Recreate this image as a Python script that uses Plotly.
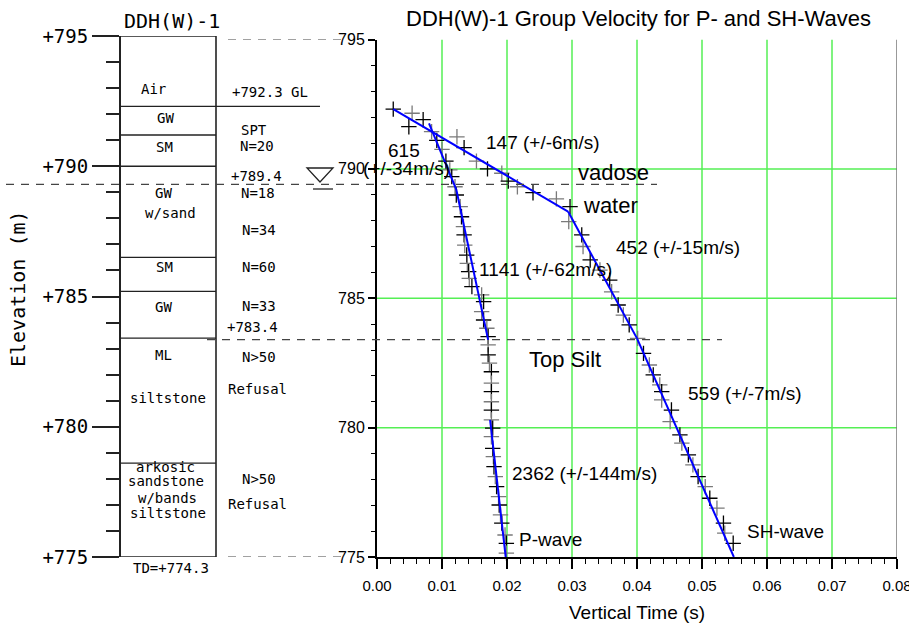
import plotly.graph_objects as go

W, H = 909, 625

# ---------------- data ----------------
# P-wave picks (elevation m, vertical time s)
p_elev = [791.63, 791.44, 791.10, 790.75, 790.30, 789.96, 789.70, 789.31, 788.99, 788.54,
          788.15, 787.77, 787.45, 787.05, 786.67, 786.35, 786.03, 785.77, 785.45, 785.13,
          784.87, 784.48, 784.16, 783.84, 783.52, 783.20, 782.81, 782.49, 782.16, 781.72,
          781.39, 781.00, 780.68, 780.30, 779.98, 779.65, 779.20, 778.88, 778.49, 778.11,
          777.72, 777.33, 777.01, 776.63, 776.31, 775.85, 775.53, 775.15, 774.90]
p_time = [0.0049, 0.0084, 0.0092, 0.0100, 0.0106, 0.0112, 0.0115, 0.0120, 0.0122, 0.0128,
          0.0130, 0.0133, 0.0134, 0.0135, 0.0138, 0.0139, 0.0141, 0.0142, 0.0146, 0.0161,
          0.0164, 0.0161, 0.0164, 0.0169, 0.0171, 0.0171, 0.0171, 0.0173, 0.0176, 0.0176,
          0.0176, 0.0176, 0.0176, 0.0176, 0.0178, 0.0176, 0.0178, 0.0179, 0.0180, 0.0182,
          0.0184, 0.0187, 0.0188, 0.0190, 0.0192, 0.0197, 0.0199, 0.0199, 0.0202]

# SH-wave picks
sh_elev = [792.31, 792.15, 791.90, 791.24, 790.82, 790.30, 790.00, 789.83, 789.53, 789.31,
           789.08, 788.84, 788.54, 787.96, 787.45, 787.00, 786.48, 786.09, 785.70, 785.25,
           784.74, 784.35, 783.97, 783.45, 782.87, 782.42, 782.04, 781.65, 781.39, 781.07,
           780.68, 780.23, 779.72, 779.40, 778.95, 778.56, 778.11, 777.72, 777.27, 776.89,
           776.31, 775.92, 775.53, 774.90]
sh_time = [0.0025, 0.0054, 0.0071, 0.0123, 0.0134, 0.0153, 0.0170, 0.0192, 0.0202, 0.0216,
           0.0240, 0.0276, 0.0297, 0.0295, 0.0315, 0.0317, 0.0328, 0.0343, 0.0358, 0.0361,
           0.0371, 0.0379, 0.0388, 0.0401, 0.0410, 0.0419, 0.0425, 0.0435, 0.0438, 0.0438,
           0.0453, 0.0451, 0.0466, 0.0469, 0.0479, 0.0486, 0.0494, 0.0505, 0.0512, 0.0523,
           0.0533, 0.0535, 0.0548, 0.0548]

# Linear-fit segments (top / bottom end of each segment)
p_fit_top_elev = [791.76, 789.20, 780.30]
p_fit_top_time = [0.0080, 0.0122, 0.0174]
p_fit_bot_elev = [789.20, 783.39, 775.00]
p_fit_bot_time = [0.0122, 0.0171, 0.0198]

sh_fit_top_elev = [792.31, 788.35, 783.45]
sh_fit_top_time = [0.0025, 0.0294, 0.0400]
sh_fit_bot_elev = [788.35, 783.45, 775.00]
sh_fit_bot_time = [0.0294, 0.0400, 0.0549]

# Boring log
layer_tops = [795.0, 792.3, 791.2, 790.0, 786.5, 785.2, 783.4, 778.6]
log_bottom = 775.0
ground_level = 792.3
water_level = 789.4
top_silt = 783.4

elev_ticks = [775, 780, 785, 790, 795]
elev_ticktext = ["+775", "+780", "+785", "+790", "+795"]
time_ticks = [0.00, 0.01, 0.02, 0.03, 0.04, 0.05, 0.06, 0.07, 0.08]

# ---------------- figure ----------------
def pxx(x):
    return x / W

def pxy(y):
    return 1 - y / H

def seg_xy(t0, e0, t1, e1):
    xs, ys = [], []
    for a, b, c, d in zip(t0, e0, t1, e1):
        xs += [a, c, None]
        ys += [b, d, None]
    return xs, ys

fig = go.Figure()

BLACK = "#000000"
GRAY = "#7a7a7a"
GREEN = "#55ef55"
BLUE = "#0000ff"

def cross_colors(n):
    return [BLACK if i % 2 == 0 else GRAY for i in range(n)]

for t, e in ((p_time, p_elev), (sh_time, sh_elev)):
    cols = cross_colors(len(t))
    fig.add_trace(go.Scatter(
        x=t, y=e, mode="markers", cliponaxis=False, showlegend=False,
        marker=dict(symbol="cross-thin", size=11, color=cols,
                    line=dict(color=cols, width=1.3)),
        xaxis="x", yaxis="y"))

for t0, e0, t1, e1 in ((p_fit_top_time, p_fit_top_elev, p_fit_bot_time, p_fit_bot_elev),
                       (sh_fit_top_time, sh_fit_top_elev, sh_fit_bot_time, sh_fit_bot_elev)):
    xs, ys = seg_xy(t0, e0, t1, e1)
    fig.add_trace(go.Scatter(x=xs, y=ys, mode="lines", showlegend=False,
                             line=dict(color=BLUE, width=2), xaxis="x", yaxis="y"))

# dummy trace for the log panel axes
fig.add_trace(go.Scatter(x=[None], y=[None], xaxis="x2", yaxis="y2", showlegend=False))

shapes = []
# green grid (right panel)
for t in time_ticks[1:-1]:
    shapes.append(dict(type="line", xref="x", yref="y", x0=t, x1=t, y0=775, y1=795,
                       line=dict(color=GREEN, width=1.5), layer="below"))
for e in elev_ticks[1:-1]:
    shapes.append(dict(type="line", xref="x", yref="y", x0=0, x1=0.08, y0=e, y1=e,
                       line=dict(color=GREEN, width=1.5), layer="below"))
# right border (gray)
shapes.append(dict(type="line", xref="x", yref="y", x0=0.08, x1=0.08, y0=775, y1=795,
                   line=dict(color="#777777", width=1.5)))

LOGC = "#222222"
COL_L, COL_R = 120, 216
# column right border
shapes.append(dict(type="line", xref="x2", yref="y2", x0=COL_R, x1=COL_R, y0=log_bottom, y1=layer_tops[0],
                   line=dict(color=LOGC, width=1.6)))
# top and bottom of column
for e in (layer_tops[0], log_bottom):
    shapes.append(dict(type="line", xref="x2", yref="y2", x0=COL_L, x1=COL_R, y0=e, y1=e,
                       line=dict(color=LOGC, width=1.6)))
# layer boundaries
for e in layer_tops[1:]:
    x1 = 320 if e == ground_level else COL_R
    shapes.append(dict(type="line", xref="x2", yref="y2", x0=COL_L, x1=x1, y0=e, y1=e,
                       line=dict(color=LOGC, width=1.3)))

DASH = dict(color="#444444", width=1.2, dash="8px,7px")
# dashed reference lines
shapes.append(dict(type="line", xref="paper", yref="y", x0=pxx(228), x1=pxx(342), y0=795, y1=795, line=DASH))
shapes.append(dict(type="line", xref="paper", yref="y", x0=pxx(228), x1=pxx(342), y0=775, y1=775, line=DASH))
shapes.append(dict(type="line", xref="paper", yref="y", x0=pxx(6), x1=pxx(657), y0=water_level, y1=water_level, line=DASH))
shapes.append(dict(type="line", xref="paper", yref="y", x0=pxx(207), x1=pxx(722), y0=top_silt, y1=top_silt, line=DASH))

# water table symbol
tri = "M {:.5f},{:.5f} L {:.5f},{:.5f} L {:.5f},{:.5f} Z".format(
    pxx(307), pxy(168), pxx(333), pxy(168), pxx(320), pxy(182))
shapes.append(dict(type="path", xref="paper", yref="paper", path=tri,
                   line=dict(color=LOGC, width=1.3)))
shapes.append(dict(type="line", xref="paper", yref="paper", x0=pxx(313), x1=pxx(333),
                   y0=pxy(189), y1=pxy(189), line=dict(color=LOGC, width=1.3)))

annotations = []

def ann(text, x, y, size, family, color="black", textangle=0):
    annotations.append(dict(text=text, x=pxx(x), y=pxy(y), xref="paper", yref="paper",
                            xanchor="center", yanchor="middle", showarrow=False,
                            textangle=textangle,
                            font=dict(size=size, family=family, color=color)))

MONO = "DejaVu Sans Mono"
SANS = "Liberation Sans, Arial"

# log panel texts
ann("DDH(W)-1", 172, 21, 20, MONO)
ann("Elevation (m)", 18, 289, 20, MONO, textangle=-90)
for txt, x, y in [("Air", 153, 89), ("GW", 165, 118), ("SM", 164, 147), ("GW", 163, 193),
                  ("w/sand", 170, 213), ("SM", 164, 267), ("GW", 163, 307), ("ML", 163, 355),
                  ("siltstone", 168, 398), ("arkosic", 165, 467), ("sandstone", 166, 481),
                  ("w/bands", 167, 498), ("siltstone", 168, 513), ("TD=+774.3", 171, 568),
                  ("+792.3 GL", 270, 92), ("SPT", 254, 130), ("N=20", 257, 146),
                  ("+789.4", 256, 176), ("N=18", 258, 193), ("N=34", 259, 230),
                  ("N=60", 259, 267), ("N=33", 259, 306), ("+783.4", 252, 327),
                  ("N>50", 259, 357), ("Refusal", 257, 389), ("N>50", 259, 479),
                  ("Refusal", 257, 504)]:
    ann(txt, x, y, 14, MONO)

# velocity panel texts
ann("DDH(W)-1 Group Velocity for P- and SH-Waves", 638, 18, 22, SANS)
ann("Vertical Time (s)", 637, 612, 19, SANS)
for txt, x, y, s in [("615", 404, 150, 19), ("(+/-34m/s)", 406, 169, 19),
                     ("147 (+/-6m/s)", 543, 142, 19), ("vadose", 613, 173, 22),
                     ("water", 610, 205, 22), ("452 (+/-15m/s)", 678, 247, 19),
                     ("1141 (+/-62m/s)", 545, 270, 19), ("Top Silt", 565, 359, 22),
                     ("559 (+/-7m/s)", 745, 393, 19), ("2362 (+/-144m/s)", 584, 473, 19),
                     ("P-wave", 550, 539, 19), ("SH-wave", 785, 531, 19)]:
    ann(txt, x, y, s, SANS)

fig.update_layout(
    width=W, height=H, autosize=False,
    margin=dict(l=0, r=0, t=0, b=0, autoexpand=False),
    paper_bgcolor="white", plot_bgcolor="white",
    showlegend=False,
    xaxis=dict(domain=[pxx(377), pxx(897)], range=[0, 0.08], tickvals=time_ticks,
               tickformat=".2f", ticks="outside", ticklen=10, tickwidth=1.5, tickcolor="black",
               showline=True, linecolor="black", linewidth=2, showgrid=False, zeroline=False,
               ticklabelstandoff=4, automargin=False, ticklabeloverflow="allow",
               tickfont=dict(family=SANS, size=15, color="black"),
               minor=dict(dtick=0.002, ticks="outside", ticklen=5, tickwidth=1.2,
                          tickcolor="black", showgrid=False),
               anchor="y"),
    yaxis=dict(domain=[pxy(557), pxy(39.5)], range=[775, 795], tickvals=elev_ticks,
               ticks="outside", ticklen=7, tickwidth=1.5, tickcolor="black",
               showline=True, linecolor="black", linewidth=2, showgrid=False, zeroline=False,
               automargin=False,
               tickfont=dict(family=SANS, size=16, color="black"),
               minor=dict(dtick=1, ticks="outside", ticklen=4, tickwidth=1.2,
                          tickcolor="black", showgrid=False),
               anchor="x"),
    xaxis2=dict(domain=[0, pxx(377)], range=[0, 377], visible=False, anchor="y2",
                automargin=False),
    yaxis2=dict(domain=[pxy(557), pxy(36)], range=[775, 795], tickvals=elev_ticks,
                ticktext=elev_ticktext, anchor="free", position=pxx(120), side="left",
                ticks="outside", ticklen=27, tickwidth=2, tickcolor=LOGC,
                showline=True, linecolor=LOGC, linewidth=2, showgrid=False, zeroline=False,
                automargin=False,
                tickfont=dict(family=MONO, size=19, color="black"),
                minor=dict(dtick=1, ticks="outside", ticklen=13, tickwidth=2,
                           tickcolor=LOGC, showgrid=False)),
    shapes=shapes,
    annotations=annotations,
)

fig.write_html("out.html", config={"displayModeBar": False},
               post_script="document.body.style.margin='0px';document.body.style.padding='0px';")
